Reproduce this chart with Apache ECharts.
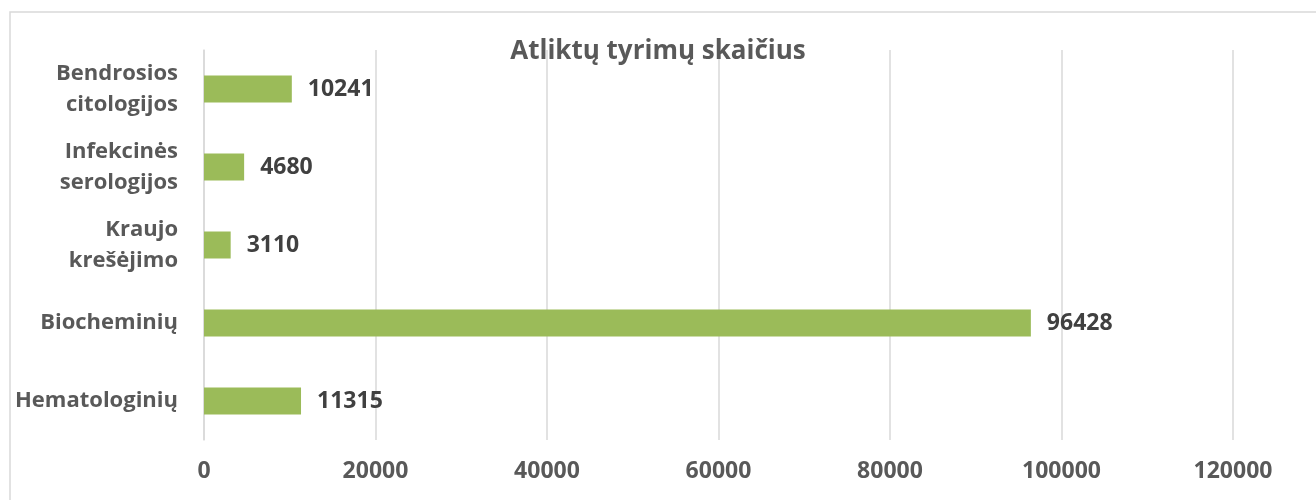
<!DOCTYPE html>
<html>
<head>
<meta charset="utf-8">
<script src="https://cdn.jsdelivr.net/npm/echarts@6/dist/echarts.min.js"></script>
<style>
  html, body { margin: 0; padding: 0; background: #fff; }
  #chart { width: 1316px; height: 500px; }
</style>
</head>
<body>
<div id="chart"></div>
<script>
// categories bottom -> top (ECharts category y axis starts at the bottom)
const categories = ['Hematologinių', 'Biocheminių', 'Kraujo\nkrešėjimo', 'Infekcinės\nserologijos', 'Bendrosios\ncitologijos'];
const values = [11315, 96428, 3110, 4680, 10241];
const chartTitle = 'Atliktų tyrimų skaičius';

const textGrey = '#595959';
const fontName = '"Open Sans", sans-serif';

const chart = echarts.init(document.getElementById('chart'));
chart.setOption({
  animation: false,
  title: {
    text: chartTitle,
    left: 'center',
    top: 34,
    textStyle: { color: textGrey, fontSize: 26, fontWeight: 'bold', fontFamily: fontName }
  },
  graphic: [{
    type: 'rect',
    shape: { x: 10, y: 12, width: 1400, height: 600 },
    style: { fill: 'none', stroke: '#d9d9d9', lineWidth: 1.5 },
    silent: true
  }],
  grid: { left: 204, right: 83, top: 50, bottom: 60, containLabel: false },
  xAxis: {
    type: 'value',
    min: 0,
    max: 120000,
    interval: 20000,
    axisLine: { show: false },
    axisTick: { show: false },
    splitLine: { lineStyle: { color: '#d9d9d9', width: 1.5 } },
    axisLabel: {
      color: textGrey, fontSize: 23, fontWeight: 'bold', fontFamily: fontName, margin: 20,
      formatter: v => String(v)
    }
  },
  yAxis: {
    type: 'category',
    data: categories,
    axisLine: { show: true, lineStyle: { color: '#d9d9d9', width: 1.5 } },
    axisTick: { show: false },
    axisLabel: { color: textGrey, fontSize: 22, fontWeight: 'bold', fontFamily: fontName, margin: 26, lineHeight: 31, align: 'right' }
  },
  series: [{
    type: 'bar',
    data: values,
    barWidth: 27,
    itemStyle: { color: '#9bbb59' },
    label: {
      show: true,
      position: 'right',
      distance: 16,
      color: '#404040',
      fontSize: 23,
      fontWeight: 'bold',
      fontFamily: fontName
    }
  }]
});
</script>
</body>
</html>
